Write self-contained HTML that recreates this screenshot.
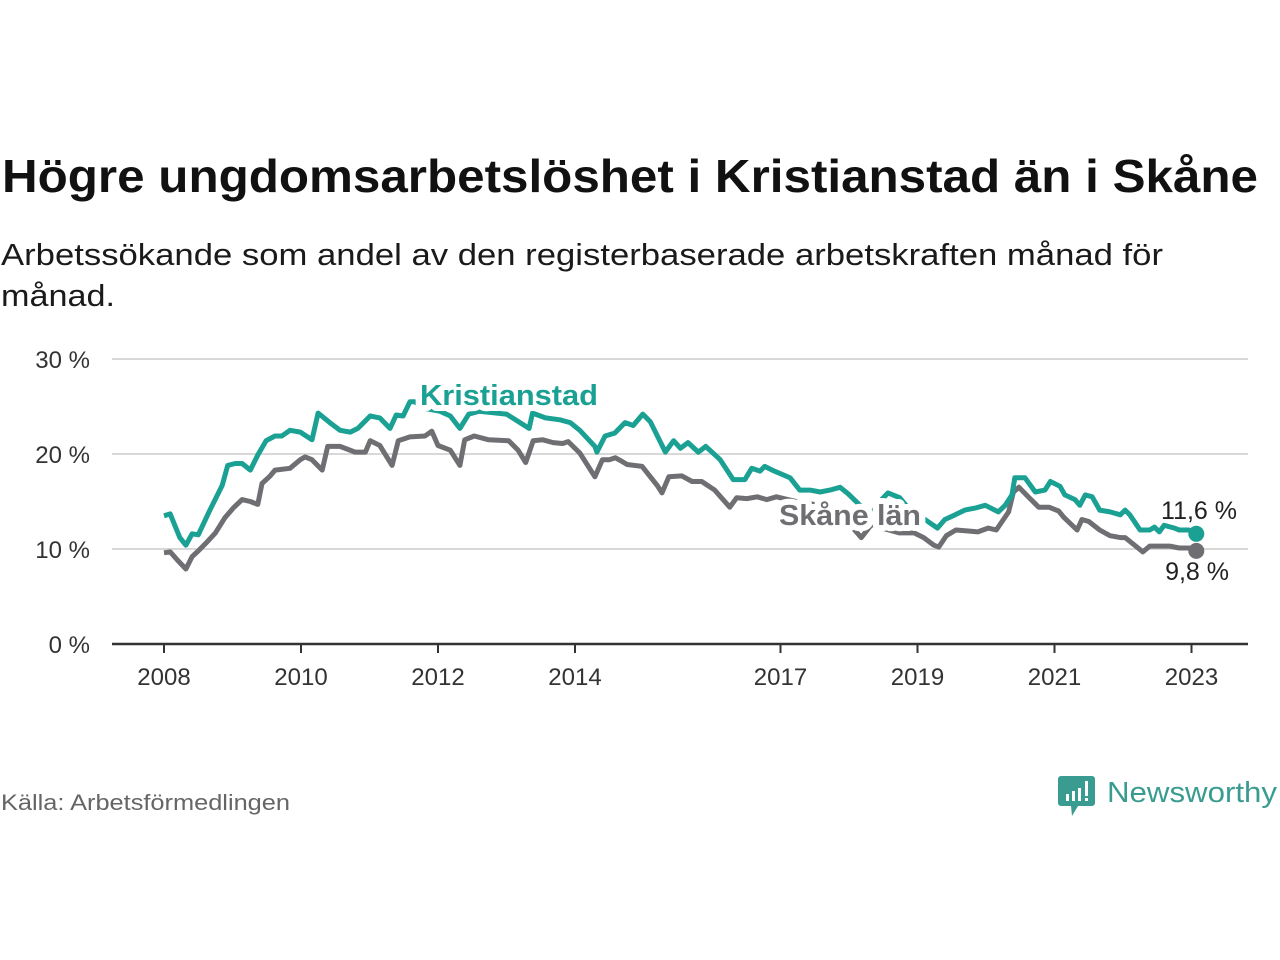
<!DOCTYPE html>
<html><head><meta charset="utf-8">
<style>
html,body{margin:0;padding:0;background:#fff;width:1280px;height:960px;overflow:hidden}
svg{display:block;font-family:"Liberation Sans",sans-serif}
</style></head>
<body>
<svg id="chart" width="1280" height="960" viewBox="0 0 1280 960" xmlns="http://www.w3.org/2000/svg">
<text x="2" y="192" font-size="46" font-weight="bold" fill="#111" textLength="1256" lengthAdjust="spacingAndGlyphs">Högre ungdomsarbetslöshet i Kristianstad än i Skåne</text>
<text x="1" y="265" font-size="31" fill="#1a1a1a" textLength="1162" lengthAdjust="spacingAndGlyphs">Arbetssökande som andel av den registerbaserade arbetskraften månad för</text>
<text x="1" y="306" font-size="31" fill="#1a1a1a" textLength="114" lengthAdjust="spacingAndGlyphs">månad.</text>
<g id="grid"></g>
<g id="series"></g>
<g id="labels"></g>
<text x="1" y="810" font-size="22" fill="#666" textLength="289" lengthAdjust="spacingAndGlyphs">Källa: Arbetsförmedlingen</text>
<g>
<path d="M1061 776 h31 a3 3 0 0 1 3 3 v24 a3 3 0 0 1 -3 3 h-14 l-6 10 l-1 -10 h-10 a3 3 0 0 1 -3 -3 v-24 a3 3 0 0 1 3 -3z" fill="#3a9c90"/>
<rect x="1066" y="794" width="3" height="7" fill="#fff"/><rect x="1072" y="791" width="3" height="10" fill="#fff"/><rect x="1078" y="788" width="3" height="13" fill="#fff"/><rect x="1085" y="781" width="3" height="15" fill="#fff"/><rect x="1085" y="798" width="3" height="3" fill="#fff"/>
<text x="1107" y="802" font-size="29" fill="#3a9c90" textLength="170" lengthAdjust="spacingAndGlyphs">Newsworthy</text>
</g>
</svg>
<script>
const yTicks=[0,10,20,30];
const yTickLabels=["0 %","10 %","20 %","30 %"];
const xTicks=[2008,2010,2012,2014,2017,2019,2021,2023];
const kYears=[0,.09,.23,.32,.41,.50,.67,.85,.93,1.04,1.14,1.26,1.37,1.49,1.62,1.72,1.84,1.99,2.16,2.25,2.42,2.57,2.72,2.83,3.01,3.15,3.30,3.39,3.49,3.59,3.66,3.81,4.03,4.18,4.32,4.45,4.60,5.0,5.33,5.38,5.57,5.78,5.93,6.07,6.29,6.32,6.44,6.58,6.73,6.85,6.99,7.10,7.32,7.44,7.54,7.65,7.80,7.91,8.12,8.31,8.48,8.58,8.70,8.77,8.91,9.14,9.28,9.43,9.58,9.72,9.87,9.99,10.16,10.34,10.45,10.57,10.74,10.89,11.11,11.29,11.40,11.55,11.69,11.84,11.99,12.18,12.28,12.38,12.42,12.57,12.72,12.86,12.94,13.08,13.15,13.30,13.37,13.45,13.55,13.66,13.81,13.96,14.03,14.10,14.25,14.39,14.46,14.53,14.60,14.75,14.82,14.96,15.07];
const kValues=[13.5,13.7,11.2,10.4,11.6,11.5,14.1,16.7,18.8,19.0,19.0,18.3,19.9,21.4,21.9,21.9,22.5,22.3,21.5,24.3,23.3,22.5,22.3,22.7,24.0,23.8,22.7,24.1,24.0,25.5,25.5,24.8,24.5,24.0,22.7,24.2,24.5,24.2,22.7,24.3,23.8,23.6,23.3,22.5,20.8,20.2,21.9,22.2,23.3,23.0,24.2,23.4,20.2,21.4,20.6,21.2,20.2,20.8,19.4,17.3,17.3,18.5,18.2,18.7,18.2,17.5,16.2,16.2,16.0,16.2,16.5,15.8,14.6,13.8,15.0,15.9,15.4,14.1,13.1,12.2,13.1,13.6,14.1,14.3,14.6,13.9,14.6,15.7,17.5,17.5,16.0,16.2,17.1,16.6,15.7,15.2,14.6,15.7,15.5,14.1,13.9,13.6,14.1,13.6,12.0,12.0,12.3,11.8,12.5,12.2,12.0,12.0,11.6];
const sYears=[0,.09,.20,.32,.41,.50,.61,.75,.89,1.01,1.14,1.26,1.37,1.43,1.55,1.62,1.84,1.99,2.06,2.16,2.31,2.39,2.57,2.79,2.94,3.01,3.15,3.33,3.42,3.59,3.81,3.91,4.00,4.18,4.32,4.39,4.53,4.74,5.03,5.17,5.28,5.39,5.53,5.68,5.82,5.90,6.07,6.29,6.40,6.50,6.59,6.69,6.76,6.98,7.20,7.27,7.37,7.56,7.71,7.85,8.04,8.26,8.36,8.51,8.66,8.80,8.94,9.23,9.66,9.96,10.18,10.33,10.48,10.74,10.95,11.09,11.24,11.31,11.42,11.56,11.74,11.88,12.03,12.15,12.33,12.40,12.48,12.63,12.77,12.92,13.06,13.14,13.33,13.40,13.50,13.66,13.81,13.96,14.03,14.17,14.29,14.39,14.68,14.82,14.96,15.07];
const sValues=[9.6,9.7,8.8,7.9,9.2,9.8,10.6,11.7,13.3,14.3,15.2,15.0,14.7,16.9,17.7,18.3,18.5,19.4,19.7,19.4,18.3,20.8,20.8,20.2,20.2,21.4,20.9,18.8,21.4,21.8,21.9,22.4,20.9,20.4,18.8,21.5,21.9,21.5,21.4,20.4,19.1,21.4,21.5,21.2,21.1,21.3,20.1,17.6,19.4,19.4,19.6,19.2,18.9,18.7,16.7,15.9,17.6,17.7,17.1,17.1,16.2,14.4,15.4,15.3,15.5,15.2,15.5,15.0,14.5,13.0,11.2,12.6,12.2,11.7,11.7,11.2,10.4,10.2,11.4,12.0,11.9,11.8,12.2,12.0,13.9,16.0,16.5,15.4,14.4,14.4,14.0,13.3,12.0,13.1,12.9,12.0,11.4,11.2,11.2,10.4,9.7,10.3,10.3,10.1,10.1,9.8];
const kLast="11,6 %", sLast="9,8 %";

const NS="http://www.w3.org/2000/svg";
const X=y=>164+(y-2008)*68.5;
const Y=v=>644-v*9.5;
function mk(tag,attrs,parent,text){const e=document.createElementNS(NS,tag);for(const k in attrs)e.setAttribute(k,attrs[k]);if(text!==undefined)e.textContent=text;parent.appendChild(e);return e;}
const grid=document.getElementById('grid'),series=document.getElementById('series'),labels=document.getElementById('labels');
yTicks.forEach((t,i)=>{
  if(t>0){const g=mk('line',{x1:112,x2:1248,y1:Y(t),y2:Y(t),stroke:'#d8d8d8','stroke-width':2},grid);
  
  }
  const l=mk('text',{x:90,y:Y(t)+9,'font-size':24,fill:'#333','text-anchor':'end'},grid,yTickLabels[i]);
  
  
});
const ax=mk('line',{x1:112,x2:1248,y1:644,y2:644,stroke:'#333','stroke-width':2.5},grid);


xTicks.forEach(t=>{
  const tk=mk('line',{x1:X(t),x2:X(t),y1:644,y2:653,stroke:'#333','stroke-width':2},grid);
  
  
  const l=mk('text',{x:X(t),y:685,'font-size':24,fill:'#333','text-anchor':'middle'},grid,String(t));
  
  
});
function pts(ys,vs){return ys.map((y,i)=>X(2008+y).toFixed(1)+','+Y(vs[i]).toFixed(1)).join(' ');}
const sl=mk('polyline',{points:pts(sYears,sValues),fill:'none',stroke:'#6f6f73','stroke-width':5,'stroke-linejoin':'round'},series);


const kl=mk('polyline',{points:pts(kYears,kValues),fill:'none',stroke:'#1aa193','stroke-width':5,'stroke-linejoin':'round'},series);


const sd=mk('circle',{cx:X(2008+sYears[sYears.length-1]),cy:Y(sValues[sValues.length-1]),r:8,fill:'#6f6f73'},series);


const kd=mk('circle',{cx:X(2008+kYears[kYears.length-1]),cy:Y(kValues[kValues.length-1]),r:8,fill:'#1aa193'},series);


const k1=mk('text',{x:420,y:405,'font-size':29,'font-weight':'bold',fill:'#1aa193',stroke:'#fff','stroke-width':12,'stroke-linejoin':'round','paint-order':'stroke',textLength:178,lengthAdjust:'spacingAndGlyphs'},labels,'Kristianstad');


const s1=mk('text',{x:779,y:525,'font-size':29,'font-weight':'bold',fill:'#6f6f73',stroke:'#fff','stroke-width':12,'stroke-linejoin':'round','paint-order':'stroke',textLength:142,lengthAdjust:'spacingAndGlyphs'},labels,'Skåne län');


const kv=mk('text',{x:1237,y:519,'font-size':25,fill:'#222','text-anchor':'end'},labels,kLast);


const sv=mk('text',{x:1229,y:580,'font-size':25,fill:'#222','text-anchor':'end'},labels,sLast);


</script>
</body></html>
